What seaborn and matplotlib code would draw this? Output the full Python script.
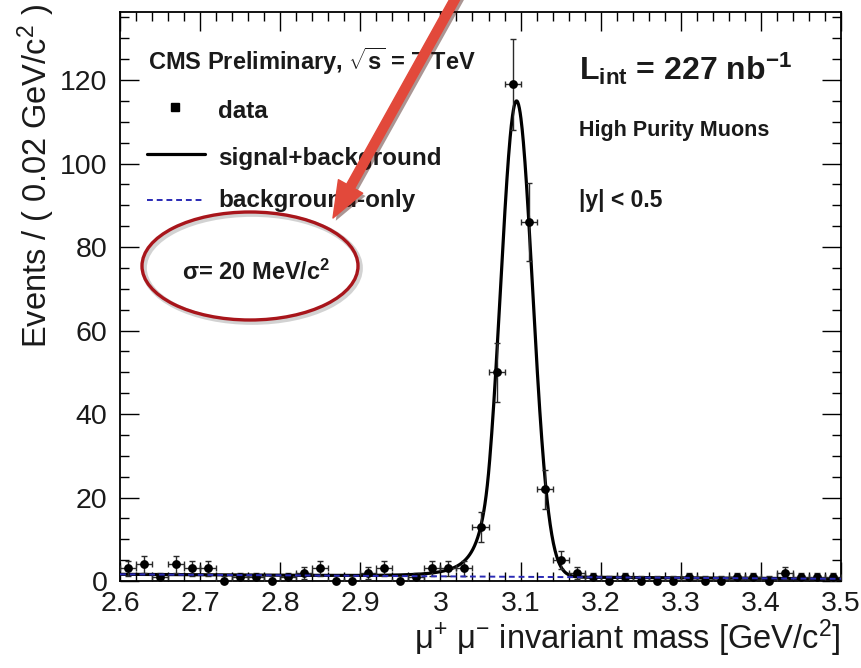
import numpy as np
import pandas as pd
import matplotlib
matplotlib.use("Agg")
import matplotlib.pyplot as plt
import seaborn as sns
from matplotlib.patches import Ellipse, FancyArrowPatch
from matplotlib.lines import Line2D
from matplotlib.ticker import MultipleLocator, FuncFormatter
import matplotlib.patheffects as pe

# ---------------- data ----------------
bin_low, bin_width = 2.60, 0.02
event_counts = [3, 4, 1, 4, 3, 3, 0, 1, 1, 0,
                1, 2, 3, 0, 0, 2, 3, 0, 1, 3,
                3, 3, 13, 50, 119, 86, 22, 5, 2, 1,
                0, 1, 0, 0, 0, 1, 0, 0, 1, 1,
                0, 2, 1, 1, 1]
# fit model parameters (Crystal-Ball signal + linear background)
sig_mean, sig_sigma, sig_amp = 3.095, 0.020, 114.0
cb_alpha, cb_n = 1.7, 3.5
bkg_at_low, bkg_slope = 1.6, -1.2

x_ticks_major, x_ticks_minor = 0.1, 0.02
y_ticks_major, y_ticks_minor = 20, 5

W, H = 861, 668

sns.set_theme(style="ticks")
plt.rcParams.update({
    "font.family": ["Liberation Sans", "DejaVu Sans"],
    "mathtext.fontset": "custom",
    "mathtext.rm": "Liberation Sans",
    "mathtext.bf": "Liberation Sans:bold",
    "mathtext.it": "Liberation Sans:italic",
    "mathtext.default": "regular",
})

def fx(x):
    return x / W

def fy(y):
    return 1 - y / H

fig = plt.figure(figsize=(W / 100, H / 100), dpi=100)
fig.patch.set_facecolor("white")
ax = fig.add_axes([fx(120), fy(581), (841 - 120) / W, (581 - 12) / H])
ax.set_facecolor("white")

counts = np.array(event_counts, dtype=float)
centers = bin_low + bin_width * (np.arange(len(counts)) + 0.5)

# model curve
m = np.linspace(2.6, 3.5, 1801)
t = (m - sig_mean) / sig_sigma
a = abs(cb_alpha)
A = (cb_n / a) ** cb_n * np.exp(-a * a / 2)
B = cb_n / a - a
shape = np.where(t > -a, np.exp(-0.5 * t * t), A * np.power(np.clip(B - t, 1e-9, None), -cb_n))
bkg = bkg_at_low + bkg_slope * (m - 2.6)
model = pd.DataFrame({"m": m, "total": sig_amp * shape + bkg, "bkg": bkg})

sns.lineplot(data=model, x="m", y="total", color="black", lw=2.3, ax=ax, zorder=2)
sns.lineplot(data=model, x="m", y="bkg", color="#2a2ab5", lw=1.4,
             linestyle=(0, (3, 2)), ax=ax, zorder=5)

# data points with error bars
yerr_lo = np.sqrt(counts)
yerr_hi = np.where(counts > 0, np.sqrt(counts), 1.15)
ax.errorbar(centers, counts, xerr=bin_width / 2, yerr=[yerr_lo, yerr_hi], fmt="none",
            ecolor="#2a2a2a", elinewidth=1.0, capsize=2.5, capthick=1.0, zorder=3)
sns.scatterplot(x=centers, y=counts, color="black", s=40, marker="o",
                linewidth=0, ax=ax, zorder=4, clip_on=False)

# axes styling (ROOT-like)
ax.set_xlim(2.6, 3.5)
ax.set_ylim(0, 136.3)
ax.xaxis.set_major_locator(MultipleLocator(x_ticks_major))
ax.xaxis.set_minor_locator(MultipleLocator(x_ticks_minor))
ax.yaxis.set_major_locator(MultipleLocator(y_ticks_major))
ax.yaxis.set_minor_locator(MultipleLocator(y_ticks_minor))
ax.xaxis.set_major_formatter(FuncFormatter(lambda v, p: f"{round(v, 2):g}"))
ax.tick_params(which="both", direction="in", top=True, right=True,
               width=1.0, color="black", labelcolor="#1a1a1a", labelsize=20.5)
ax.tick_params(which="major", length=13.5)
ax.tick_params(which="minor", length=6.8)
ax.tick_params(axis="y", pad=9)
ax.tick_params(axis="x", pad=7)
for s in ax.spines.values():
    s.set_linewidth(1.3)
    s.set_color("black")

ax.set_xlabel(r"μ$^{+}$ μ$^{-}$ invariant mass [GeV/c$^{2}$]", fontsize=23.5,
              color="#1a1a1a", loc="right")
ax.set_ylabel(r"Events / ( 0.02 GeV/c$^{2}$ )", fontsize=23.5, color="#1a1a1a", loc="top")
ax.xaxis.set_label_coords(1.0, (581 - 618) / 569)
ax.yaxis.set_label_coords((57 - 120) / 721, (581 - 4) / 569)

# annotations
tc = "#1a1a1a"
fig.text(fx(148), fy(70), r"CMS Preliminary, $\mathbf{\sqrt{s}}$ = 7 TeV", fontsize=17,
         fontweight="bold", color=tc, va="baseline")
fig.text(fx(218), fy(118), "data", fontsize=17.5, fontweight="bold", color=tc, va="baseline")
fig.text(fx(218), fy(165), "signal+background", fontsize=17.5, fontweight="bold",
         color=tc, va="baseline")
fig.text(fx(218), fy(207), "background-only", fontsize=17.5, fontweight="bold",
         color=tc, va="baseline")
fig.add_artist(Line2D([fx(175)], [fy(107)], marker="s", ms=6, color="black",
                      transform=fig.transFigure))
fig.add_artist(Line2D([fx(147), fx(205)], [fy(154), fy(154)], color="black", lw=2.3,
                      transform=fig.transFigure))
fig.add_artist(Line2D([fx(147), fx(205)], [fy(200), fy(200)], color="#2a2ab5", lw=1.4,
                      linestyle=(0, (3, 2)), transform=fig.transFigure))

fig.text(fx(579), fy(80), r"L$_{\mathbf{int}}$ = 227 nb$^{\mathbf{-1}}$", fontsize=23,
         fontweight="bold", color=tc, va="baseline")
fig.text(fx(579), fy(136), "High Purity Muons", fontsize=15.5, fontweight="bold",
         color=tc, va="baseline")
fig.text(fx(579), fy(207), "|y| < 0.5", fontsize=16.5, fontweight="bold",
         color=tc, va="baseline")

fig.text(fx(182), fy(280), r"σ= 20 MeV/c$^{\mathbf{2}}$", fontsize=17, fontweight="bold",
         color=tc, va="baseline")
ell = Ellipse((fx(250), fy(266)), width=216 / W, height=108 / H, transform=fig.transFigure,
              fill=False, ec="#a8151b", lw=2.4, zorder=9,
              path_effects=[pe.SimpleLineShadow(offset=(1.5, -1.5), shadow_color="gray",
                                                alpha=0.35, linewidth=4),
                            pe.Normal()])
fig.add_artist(ell)

arrow = FancyArrowPatch(posA=(fx(460), fy(-10)), posB=(fx(333), fy(218)),
                        transform=fig.transFigure,
                        arrowstyle="simple,head_length=2.6,head_width=2.0,tail_width=0.65",
                        mutation_scale=10, color="#e2493b", zorder=10, shrinkA=0, shrinkB=0,
                        path_effects=[pe.SimplePatchShadow(offset=(2, -2), alpha=0.45),
                                      pe.Normal()])
fig.add_artist(arrow)

fig.savefig("out.png", dpi=100, facecolor="white")
